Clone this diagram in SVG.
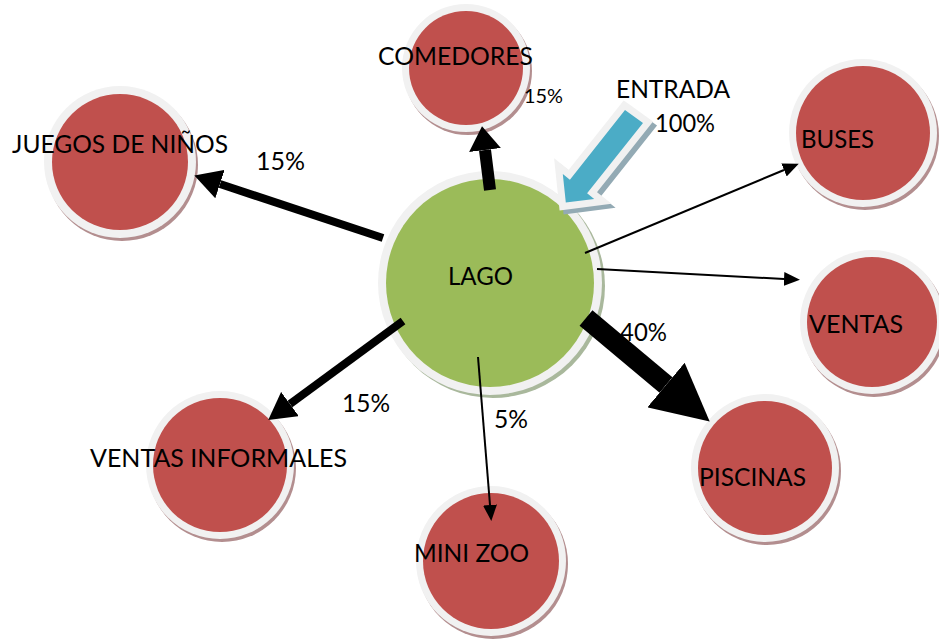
<svg xmlns="http://www.w3.org/2000/svg" width="939" height="641" viewBox="0 0 939 641">
<style>
.shR{fill:#b38e8f}
.shG{fill:#a9b89c}
.ring{fill:#f1f1f1}
.red{fill:#c0504d}
.green{fill:#9bbb59}
text{font-family:Lato,"Liberation Sans",sans-serif;font-size:25px;fill:#000}
.sm{font-size:20px}
.c{stroke:#000;fill:none}
</style>
<defs>
<marker id="hThin" markerUnits="userSpaceOnUse" viewBox="0 -7 16 14" markerWidth="16" markerHeight="14" refX="0" refY="0" orient="auto"><path d="M0,-7 L16,0 L0,7 z" fill="#000"/></marker>
<marker id="hMed" markerUnits="userSpaceOnUse" viewBox="0 -15 27 30" markerWidth="27" markerHeight="30" refX="0" refY="0" orient="auto"><path d="M0,-15 L27,0 L0,15 z" fill="#000"/></marker>
<marker id="hTop" markerUnits="userSpaceOnUse" viewBox="0 -16 24 32" markerWidth="24" markerHeight="32" refX="0" refY="0" orient="auto"><path d="M0,-16 L24,0 L0,16 z" fill="#000"/></marker>
<marker id="hBig" markerUnits="userSpaceOnUse" viewBox="0 -29 57 58" markerWidth="57" markerHeight="58" refX="0" refY="0" orient="auto"><path d="M0,-29 L57,0 L0,29 z" fill="#000"/></marker>
</defs>
<rect width="939" height="641" fill="#fff"/>

<g id="node-comedores">
<circle class="shR" cx="468" cy="71" r="64"/><circle class="ring" cx="466" cy="68" r="64"/><circle class="red" cx="466" cy="68" r="57"/>
<text x="378" y="65" textLength="155" lengthAdjust="spacingAndGlyphs">COMEDORES</text>
</g>
<g id="node-juegos">
<circle class="shR" cx="122" cy="165" r="76"/><circle class="ring" cx="120" cy="162" r="76"/><circle class="red" cx="120" cy="162" r="68"/>
<text x="12" y="153" textLength="216" lengthAdjust="spacingAndGlyphs">JUEGOS DE NIÑOS</text>
</g>
<g id="node-buses">
<circle class="shR" cx="865" cy="136" r="74"/><circle class="ring" cx="863" cy="133" r="74"/><circle class="red" cx="863" cy="133" r="67"/>
<text x="801" y="148" textLength="73" lengthAdjust="spacingAndGlyphs">BUSES</text>
</g>
<g id="node-ventas">
<circle class="shR" cx="874" cy="325" r="72"/><circle class="ring" cx="872" cy="322" r="72"/><circle class="red" cx="872" cy="322" r="65"/>
<text x="809" y="333" textLength="94" lengthAdjust="spacingAndGlyphs">VENTAS</text>
</g>
<g id="node-piscinas">
<circle class="shR" cx="767" cy="471" r="74"/><circle class="ring" cx="765" cy="468" r="74"/><circle class="red" cx="765" cy="468" r="67"/>
<text x="699" y="486" textLength="107" lengthAdjust="spacingAndGlyphs">PISCINAS</text>
</g>
<g id="node-ventas-informales">
<circle class="shR" cx="222" cy="468" r="74"/><circle class="ring" cx="220" cy="465" r="74"/><circle class="red" cx="220" cy="465" r="67"/>
<text x="90" y="467" textLength="257" lengthAdjust="spacingAndGlyphs">VENTAS INFORMALES</text>
</g>
<g id="node-minizoo">
<circle class="shR" cx="493" cy="564" r="75"/><circle class="ring" cx="491" cy="561" r="75"/><circle class="red" cx="491" cy="561" r="68"/>
<text x="414" y="562" textLength="115" lengthAdjust="spacingAndGlyphs">MINI ZOO</text>
</g>
<g id="node-lago">
<circle class="shG" cx="493" cy="286" r="112"/><circle class="ring" cx="490" cy="283" r="112"/><circle class="green" cx="490" cy="283" r="104"/>
<text x="448" y="285" textLength="65" lengthAdjust="spacingAndGlyphs">LAGO</text>
</g>

<g id="connectors">
<line class="c" x1="490" y1="190" x2="485" y2="150" stroke-width="12" marker-end="url(#hTop)"/>
<line class="c" x1="383" y1="238" x2="220" y2="184" stroke-width="8" marker-end="url(#hMed)"/>
<line class="c" x1="403" y1="321" x2="290" y2="404" stroke-width="8" marker-end="url(#hMed)"/>
<line class="c" x1="478" y1="357" x2="490" y2="505" stroke-width="2" marker-end="url(#hThin)"/>
<line class="c" x1="586" y1="318" x2="666" y2="385" stroke-width="20" marker-end="url(#hBig)"/>
<line class="c" x1="585" y1="253" x2="784" y2="170" stroke-width="2" marker-end="url(#hThin)"/>
<line class="c" x1="597" y1="269" x2="784" y2="279" stroke-width="2" marker-end="url(#hThin)"/>
</g>

<g id="entrada-arrow">
<polygon points="625,110 643,123 587.1,193.3 594.2,198.9 565.8,202.6 562.8,174.1 569.9,179.7" transform="translate(4,4)" fill="#93aab4" stroke="#93aab4" stroke-width="14" stroke-linejoin="miter"/>
<polygon points="625,110 643,123 587.1,193.3 594.2,198.9 565.8,202.6 562.8,174.1 569.9,179.7" fill="#f1f1f1" stroke="#f1f1f1" stroke-width="14" stroke-linejoin="miter"/>
<polygon points="625,110 643,123 587.1,193.3 594.2,198.9 565.8,202.6 562.8,174.1 569.9,179.7" fill="#4bacc6"/>
</g>

<g id="labels">
<text x="616" y="98" textLength="114" lengthAdjust="spacingAndGlyphs">ENTRADA</text>
<text x="655" y="132" textLength="60" lengthAdjust="spacingAndGlyphs">100%</text>
<text class="sm" x="524" y="103" textLength="39" lengthAdjust="spacingAndGlyphs">15%</text>
<text x="256" y="170" textLength="49" lengthAdjust="spacingAndGlyphs">15%</text>
<text x="620" y="341" textLength="47" lengthAdjust="spacingAndGlyphs">40%</text>
<text x="342" y="412" textLength="48" lengthAdjust="spacingAndGlyphs">15%</text>
<text x="494" y="428" textLength="34" lengthAdjust="spacingAndGlyphs">5%</text>
</g>
</svg>
